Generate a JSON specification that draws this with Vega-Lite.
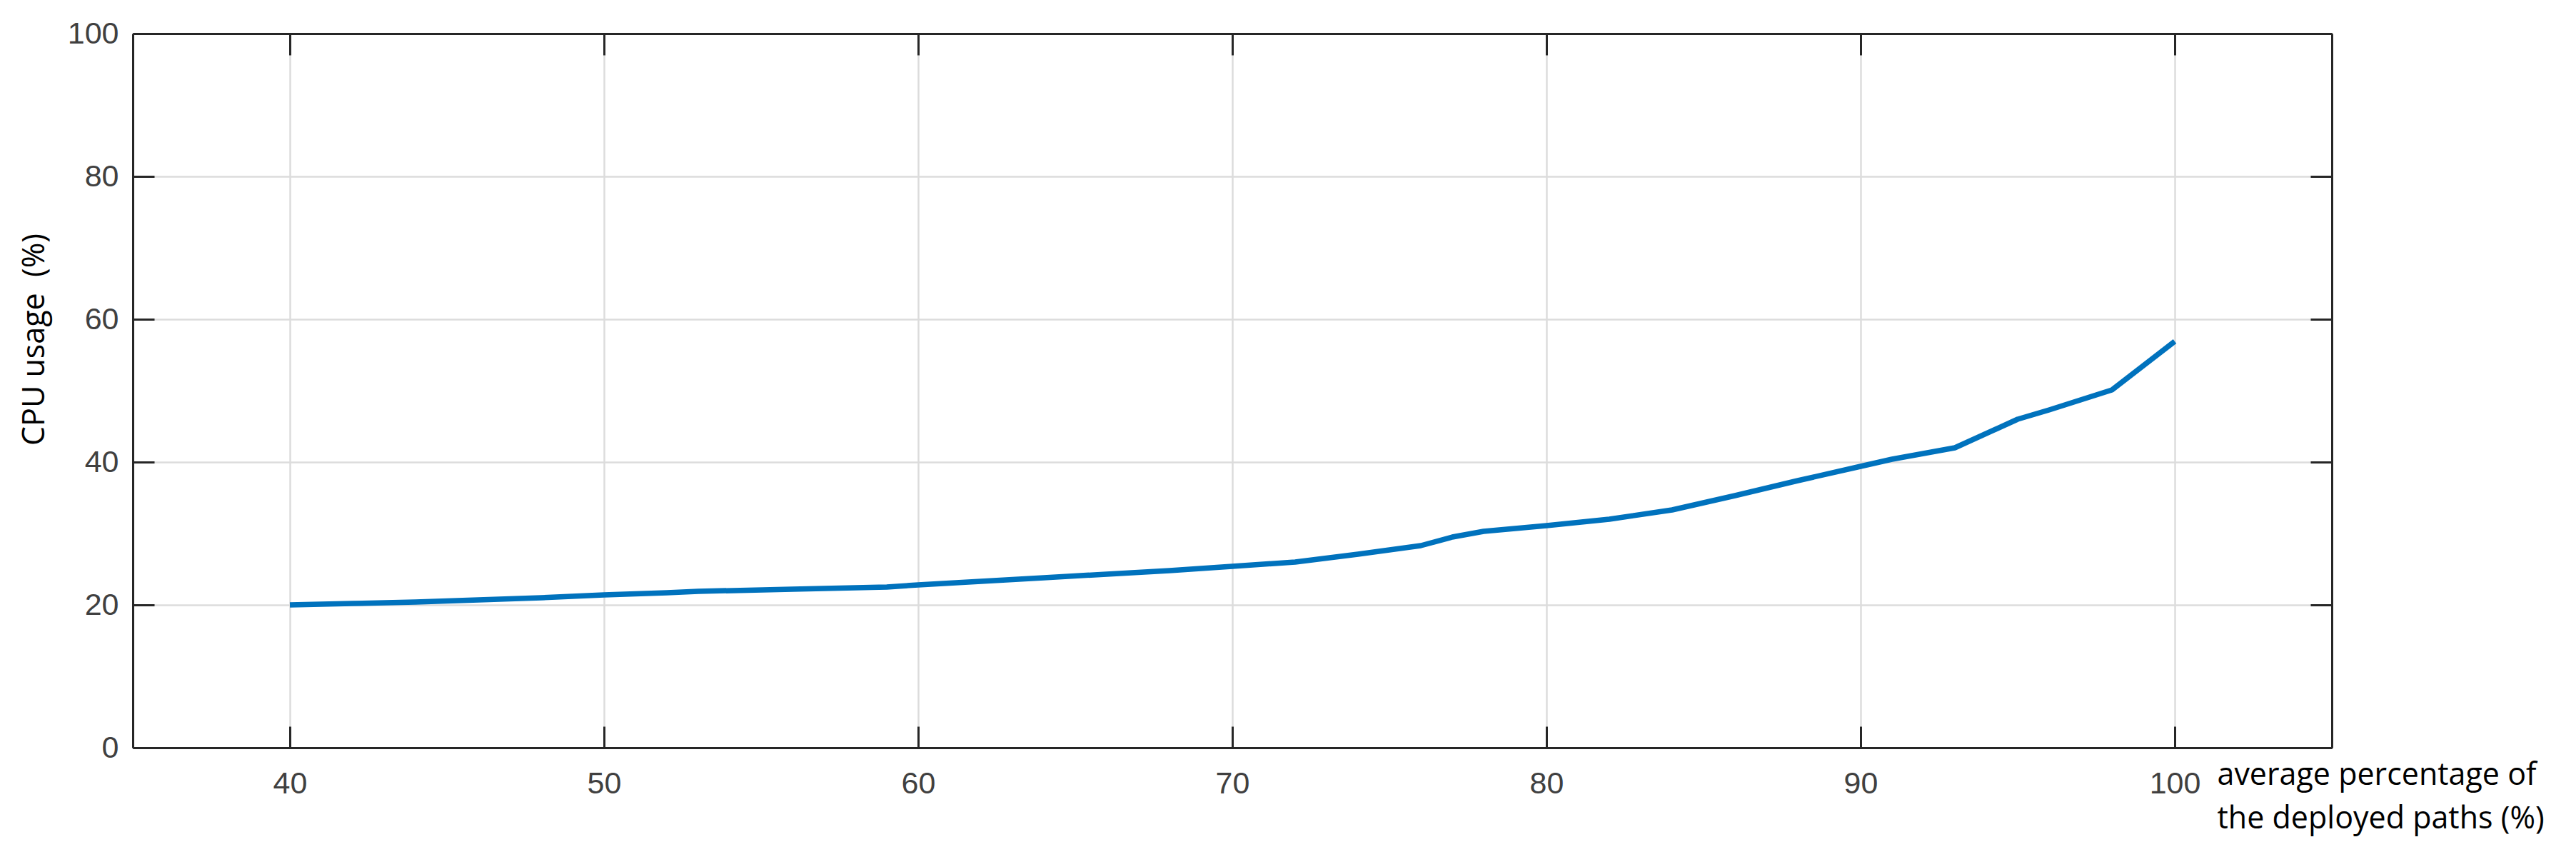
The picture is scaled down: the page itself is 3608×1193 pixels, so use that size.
{
  "$schema": "https://vega.github.io/schema/vega-lite/v6.json",
  "width": 3080,
  "height": 1000,
  "autosize": {"type": "none"},
  "padding": {"left": 186, "top": 47, "right": 342, "bottom": 146},
  "background": "white",
  "config": {
    "view": {"stroke": null},
    "axis": {
      "domainColor": "#262626",
      "domainWidth": 3,
      "tickColor": "#262626",
      "tickWidth": 3,
      "tickSize": -30,
      "gridColor": "#dcdcdc",
      "gridWidth": 2.5,
      "labelFont": "Liberation Sans",
      "labelFontSize": 43,
      "labelColor": "#404040",
      "titleFont": "Open Sans",
      "titleFontSize": 43,
      "titleFontWeight": "normal",
      "titleColor": "#000000"
    }
  },
  "data": {
    "values": [
      {"pct": 40, "cpu": 20.0},
      {"pct": 42, "cpu": 20.2},
      {"pct": 44, "cpu": 20.4},
      {"pct": 46, "cpu": 20.7},
      {"pct": 48, "cpu": 21.0},
      {"pct": 50, "cpu": 21.4},
      {"pct": 52, "cpu": 21.7},
      {"pct": 53, "cpu": 21.9},
      {"pct": 56, "cpu": 22.2},
      {"pct": 59, "cpu": 22.5},
      {"pct": 60, "cpu": 22.8},
      {"pct": 62, "cpu": 23.3},
      {"pct": 64, "cpu": 23.8},
      {"pct": 66, "cpu": 24.3},
      {"pct": 68, "cpu": 24.8},
      {"pct": 70, "cpu": 25.4},
      {"pct": 72, "cpu": 26.0},
      {"pct": 74, "cpu": 27.1},
      {"pct": 76, "cpu": 28.3},
      {"pct": 77, "cpu": 29.5},
      {"pct": 78, "cpu": 30.3},
      {"pct": 80, "cpu": 31.1},
      {"pct": 82, "cpu": 32.0},
      {"pct": 84, "cpu": 33.3},
      {"pct": 86, "cpu": 35.3},
      {"pct": 88, "cpu": 37.4},
      {"pct": 90, "cpu": 39.4},
      {"pct": 91, "cpu": 40.4},
      {"pct": 92, "cpu": 41.2},
      {"pct": 93, "cpu": 42.0},
      {"pct": 95, "cpu": 46.0},
      {"pct": 96, "cpu": 47.3},
      {"pct": 97, "cpu": 48.7},
      {"pct": 98, "cpu": 50.1},
      {"pct": 100, "cpu": 56.9}
    ]
  },
  "resolve": {"axis": {"x": "independent", "y": "independent"}},
  "layer": [
    {
      "mark": {"type": "line", "color": "#0072BD", "strokeWidth": 7.5, "strokeJoin": "round", "strokeCap": "butt"},
      "encoding": {
        "x": {
          "field": "pct", "type": "quantitative",
          "scale": {"domain": [35, 105], "nice": false, "zero": false},
          "axis": {
            "orient": "bottom",
            "values": [40, 50, 60, 70, 80, 90, 100],
            "grid": true,
            "labelPadding": 80,
            "labelBaseline": "middle",
            "title": ["average percentage of", "the deployed paths (%)"],
            "titleAlign": "left",
            "titleBaseline": "alphabetic",
            "titleX": 2919,
            "titleY": 51,
            "titleLineHeight": 61
          }
        },
        "y": {
          "field": "cpu", "type": "quantitative",
          "scale": {"domain": [0, 100], "nice": false, "zero": true},
          "axis": {
            "orient": "left",
            "values": [0, 20, 40, 60, 80, 100],
            "grid": true,
            "labelPadding": 50,
            "title": "CPU usage\u00a0 (%)",
            "titleAngle": 270,
            "titleAlign": "center",
            "titleBaseline": "alphabetic",
            "titleX": -125,
            "titleY": 428
          }
        }
      }
    },
    {
      "mark": {"type": "line", "opacity": 0},
      "encoding": {
        "x": {
          "field": "pct", "type": "quantitative",
          "axis": {
            "orient": "top",
            "values": [40, 50, 60, 70, 80, 90, 100],
            "grid": false,
            "labels": false,
            "title": null
          }
        },
        "y": {
          "field": "cpu", "type": "quantitative",
          "axis": {
            "orient": "right",
            "values": [0, 20, 40, 60, 80, 100],
            "grid": false,
            "labels": false,
            "title": null
          }
        }
      }
    }
  ]
}
